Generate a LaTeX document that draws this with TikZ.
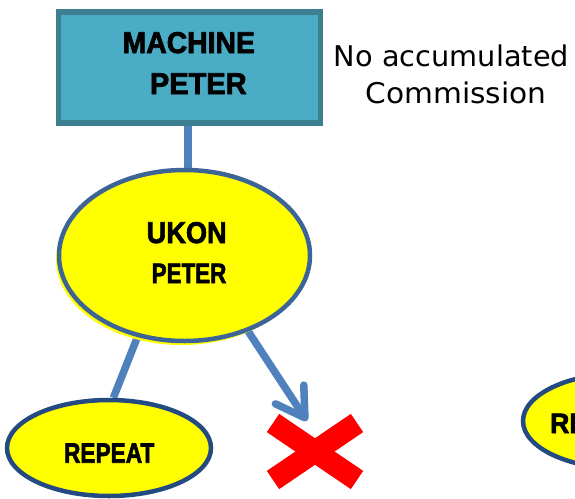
\documentclass[tikz,border=0pt]{standalone}
\usepackage{fontspec}
\usepackage{graphicx}
\setmainfont{Liberation Sans}
\newfontfamily\heavy{Liberation Sans}[UprightFont=*-Bold, FakeBold=2.5]
\newfontfamily\vfont{DejaVu Sans}
\usetikzlibrary{shapes.geometric,arrows.meta,backgrounds}
\definecolor{boxfill}{RGB}{75,172,198}
\definecolor{boxline}{RGB}{59,127,145}
\definecolor{conn}{RGB}{79,129,189}
\definecolor{ukline}{RGB}{60,100,150}
\definecolor{rpline}{RGB}{35,75,130}
\definecolor{pureyellow}{RGB}{255,255,0}
\newcommand{\sx}[2]{\scalebox{#1}[1]{#2}}
\tikzset{
  lbl/.style={anchor=base, inner sep=0pt, font=\heavy\fontsize{30}{36}\selectfont},
  lblsmall/.style={anchor=base, inner sep=0pt, font=\heavy\fontsize{28}{34}\selectfont},
  cmt/.style={anchor=base, inner sep=0pt, font=\vfont\fontsize{28.5}{34}\selectfont},
  connline/.style={draw=conn, line width=7.5pt},
  ukell/.style={ellipse, draw=ukline, fill=pureyellow, line width=4.5pt, minimum width=251pt, minimum height=171pt, inner sep=0pt},
  ukshadow/.style={ellipse, fill=pureyellow, minimum width=251pt, minimum height=171pt, inner sep=0pt},
  rpell/.style={ellipse, draw=rpline, fill=pureyellow, line width=4.5pt, minimum width=204pt, minimum height=96pt, inner sep=0pt},
  machbox/.style={draw=boxline, fill=boxfill, line width=5.5pt, minimum width=262pt, minimum height=111pt, inner sep=0pt},
  xbar/.style={draw=red, line width=22pt}
}
\begin{document}
\begin{tikzpicture}[x=1pt,y=-1pt]
\useasboundingbox (0,0) rectangle (575,498);
\clip (0,0) rectangle (575,498);
% machine box
\node[machbox] (box) at (189.5,67.5) {};
\node[lbl] (t1) at (188.8,53) {\sx{0.945}{MACHINE}};
\node[lbl] (t2) at (198.3,94) {\sx{0.967}{PETER}};
% comment
\node[cmt] (c1) at (451.5,66) {\sx{1.01}{No accumulated}};
\node[cmt] (c2) at (456,103.5) {\sx{1.04}{Commission}};
% ukon ellipse
\node[ukshadow] (uksh) at (181.5,259.5) {};
\node[ukell] (ukon) at (184.5,255.5) {};
\node[lbl] (t3) at (186.7,243) {\sx{0.906}{UKON}};
\node[lblsmall] (t4) at (189,283) {\sx{0.80}{PETER}};
% repeat ellipses
\node[rpell] (rep) at (109,448) {};
\node[lblsmall] (t5) at (109.2,462.7) {\sx{0.81}{REPEAT}};
\node[rpell] (rep2) at (625,421) {};
\node[lblsmall, anchor=base west] (t6) at (550,433) {\sx{0.95}{REPEAT}};
% red cross
\coordinate (xc) at (315,451.5);
\draw[xbar] ([shift={(-42,-28.5)}]xc) -- ([shift={(42,28.5)}]xc);
\draw[xbar] ([shift={(42,-28.5)}]xc) -- ([shift={(-42,28.5)}]xc);
\coordinate (xtip) at (307,421);
% connectors
\begin{scope}[on background layer]
\draw[connline] ([xshift=-1.5pt]box.south) -- ([xshift=-1.5pt]box.south |- ukon.north);
\draw[connline] (ukon.240) -- (rep.85);
\draw[connline, -{Straight Barb[length=28pt,width=34pt,round]}] (ukon.310) -- (xtip);
\end{scope}
\end{tikzpicture}
\end{document}
